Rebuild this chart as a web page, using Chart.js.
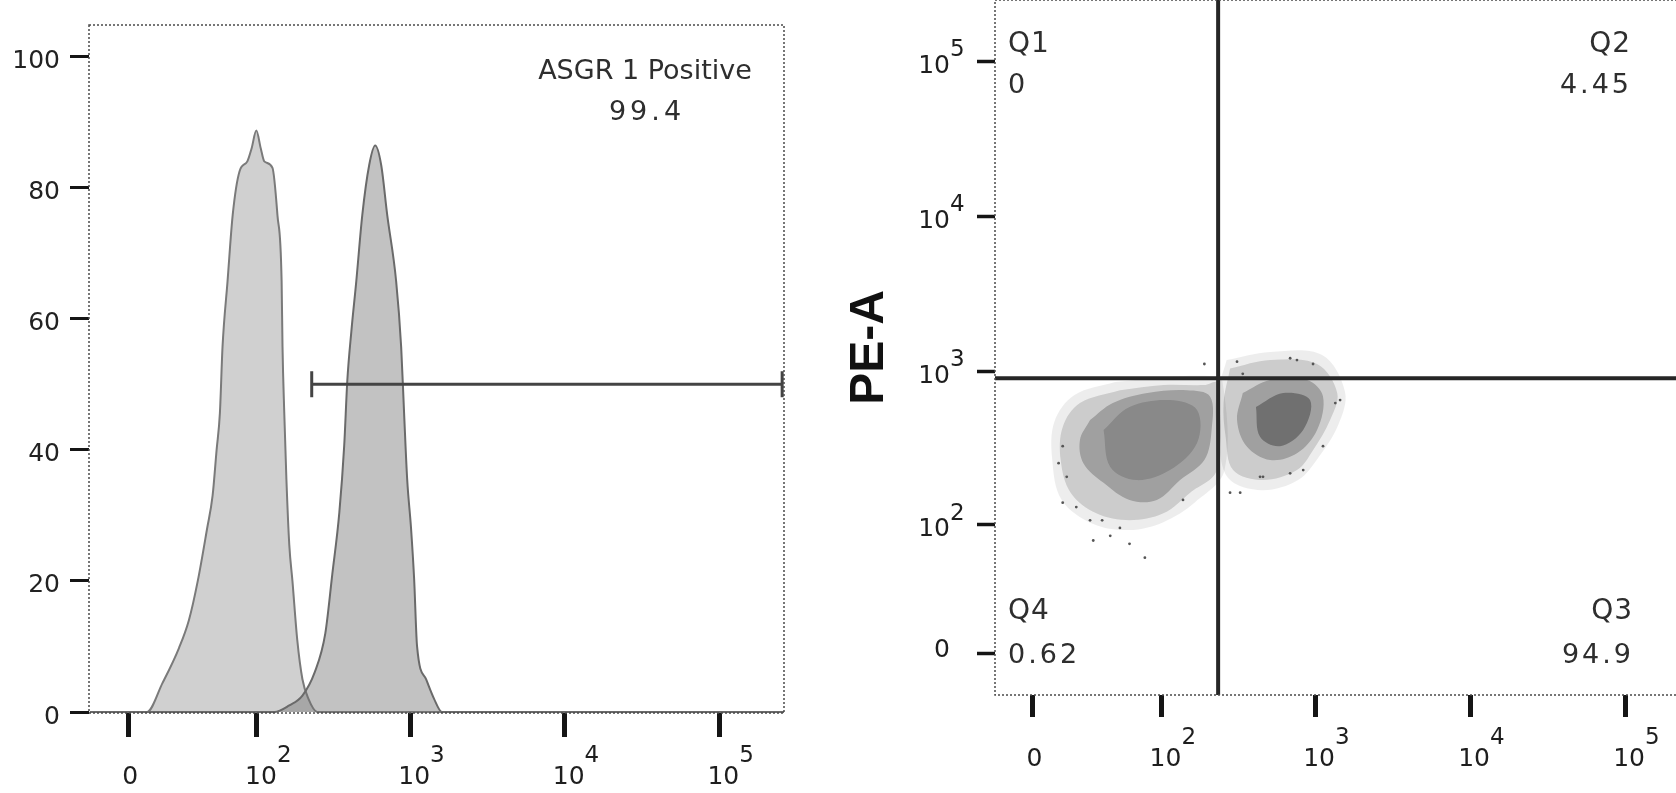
<!DOCTYPE html>
<html>
<head>
<meta charset="utf-8">
<title>ASGR1 staining</title>
<script src="https://cdn.jsdelivr.net/npm/chart.js@4.4.1/dist/chart.umd.min.js"></script>
<style>
  html, body { margin: 0; padding: 0; background: #fff; }
  body { position: relative; width: 1676px; height: 793px; overflow: hidden; }
  #histWrap { position: absolute; left: 0; top: 0; }
  #dotWrap { position: absolute; left: 840px; top: -20px; }
</style>
</head>
<body>
<div id="histWrap"><canvas id="histChart" width="800" height="793"></canvas></div>
<div id="dotWrap"><canvas id="dotChart" width="860" height="813"></canvas></div>
<script>
// decade ticks shared by every fluorescence axis
const decadeTicks = [0, 1e2, 1e3, 1e4, 1e5];
const decadeLabels = [["0", ""], ["10", "2"], ["10", "3"], ["10", "4"], ["10", "5"]];
const countTicks = [0, 20, 40, 60, 80, 100];

// histogram, % of max: unstained control and stained cells
const controlX = [-18, 8.5, 16, 25, 31, 37, 44, 48.5, 52, 55, 57.5, 62.5, 68, 76, 86, 92, 99, 106, 112, 127, 137, 146, 148, 152, 157, 164, 172, 185, 200, 219, 250, 262144];
const controlY = [0, 0, 4.4, 9.8, 14, 20, 28, 33, 40, 45.6, 55.7, 65.7, 75.8, 82.5, 84, 86, 88.7, 86, 84, 83, 75.8, 65.7, 55.7, 45.6, 35.5, 25.5, 20, 11, 5, 2, 0, 0];
const stainedX = [-18, 131, 164, 200, 240, 282, 313, 348, 374, 392, 416, 448, 490, 543, 594, 650, 711, 812, 875, 914, 957, 1014, 1061, 1109, 1268, 1429, 1607, 262144];
const stainedY = [0, 0, 1, 2.5, 6, 12, 21, 30.5, 40.6, 50.6, 58, 65.7, 75.8, 83.4, 86.4, 83.4, 75.8, 65.7, 55.7, 45.6, 35.5, 28, 20.4, 10, 5, 2, 0, 0];

// positive gate
const gateName = "ASGR 1 Positive";
const gatePct = "99.4";
const gateRange = [230, 255000];
const gateLevel = 50;

// dot plot density contours, [x, PE-A], faint halo to dense core
const clusterAHalo = [[47, 850], [106, 914], [209, 928], [251, 875], [260, 229], [167, 141], [103, 104], [60, 92], [31, 101], [13.5, 146], [9, 266], [10, 470], [20, 700]];
const clusterAOuter = [[51, 753], [103, 813], [192, 813], [231, 839], [231, 229], [155, 163], [103, 119], [60, 107], [33, 119], [18, 163], [13, 266], [14, 436], [23, 622]];
const clusterAMid = [[29, 483], [45, 622], [80, 722], [148, 753], [209, 686], [214, 416], [192, 266], [133, 197], [93, 146], [60, 146], [38, 189], [25, 254], [23, 358]];
const clusterACore = [[38, 416], [60, 587], [114, 650], [172, 560], [172, 343], [114, 229], [67, 197], [43, 240]];
const clusterBHalo = [[268, 1178], [512, 1327], [1110, 1268], [1560, 733], [1410, 448], [1045, 274], [777, 197], [455, 169], [274, 203], [236, 376], [228, 650]];
const clusterBOuter = [[282, 1040], [512, 1178], [1030, 1111], [1390, 722], [1250, 483], [970, 308], [764, 229], [461, 197], [295, 229], [264, 376], [256, 622]];
const clusterBMid = [[341, 722], [512, 875], [889, 875], [1125, 686], [1030, 416], [764, 294], [512, 266], [361, 327], [313, 483]];
const clusterBCore = [[415, 587], [622, 722], [928, 650], [838, 416], [594, 327], [441, 376]];
const sparseEvents = [
  [14, 140], [31, 78], [60, 74], [77, 59], [51, 95], [37, 107], [21, 131], [12, 254], [328, 163],
  [690, 1210], [970, 1111], [313, 1150], [192, 1111], [1450, 650], [838, 229], [282, 163], [461, 207],
  [341, 960], [764, 1178], [1350, 622], [1125, 327], [690, 218], [441, 207], [139, 146], [43, 84],
  [29, 107], [16, 207], [14, 327],
];

// quadrant gate
const quadX = 236;
const quadY = 900;
const quadNames = ["Q1", "Q2", "Q3", "Q4"];
const quadPct = ["0", "4.45", "94.9", "0.62"];

// axis ranges
const histXRange = [-18.5, 262144];
const histYRange = [-0.15, 104.8];
const dotXRange = [-17.5, 262144];
const dotYRange = [-19.5, 247700];

Chart.defaults.animation = false;
Chart.defaults.events = [];
Chart.defaults.font.family = '"DejaVu Sans", sans-serif';
Chart.defaults.color = "#222";
Chart.defaults.plugins.legend.display = false;
Chart.defaults.plugins.tooltip.enabled = false;

// biexponential display: linear around zero, log10 above a few hundred
const BIEX_W = 15;
const biex = (v) => Math.log10((v + Math.sqrt(v * v + 4 * BIEX_W * BIEX_W)) / 2);
const biexInv = (u) => {
  const w = Math.pow(10, u);
  return w - (BIEX_W * BIEX_W) / w;
};

class BiexScale extends Chart.Scale {
  static id = "biex";
  static defaults = {};

  parse(raw) {
    return raw === null || raw === undefined ? null : +raw;
  }
  determineDataLimits() {
    this.min = this.options.min;
    this.max = this.options.max;
  }
  buildTicks() {
    return [];
  }
  getLabelForValue(value) {
    return String(value);
  }
  configure() {
    super.configure();
    this._startValue = biex(this.min);
    this._valueRange = biex(this.max) - this._startValue;
  }
  getPixelForValue(value) {
    return this.getPixelForDecimal((biex(value) - this._startValue) / this._valueRange);
  }
  getValueForPixel(pixel) {
    return biexInv(this._startValue + this.getDecimalForPixel(pixel) * this._valueRange);
  }
}
Chart.register(BiexScale);

const toPoints = (xs, ys) => xs.map((x, i) => ({ x, y: ys[i] }));
const closed = (pairs) => [...pairs, pairs[0]].map(([x, y]) => ({ x, y }));
const setDecades = (scale) => {
  scale.ticks = decadeTicks.map((value) => ({ value }));
};

// dotted plot frame
const frame = {
  id: "frame",
  afterDatasetsDraw(chart) {
    const { ctx, chartArea: a } = chart;
    ctx.save();
    ctx.strokeStyle = "#4a4a4a";
    ctx.lineWidth = 1.5;
    ctx.setLineDash([2, 2]);
    ctx.strokeRect(a.left, a.top, a.right - a.left, a.bottom - a.top);
    ctx.restore();
  },
};

// "10" with a raised exponent under each decade tick
const decadeTickLabels = {
  id: "decadeTickLabels",
  afterDraw(chart) {
    const { ctx } = chart;
    ctx.save();
    ctx.fillStyle = "#1e1e1e";
    ctx.textBaseline = "middle";
    Object.values(chart.scales).forEach((scale) => {
      if (scale.type !== "biex") return;
      scale.ticks.forEach((tick) => {
        const [base, exp] = decadeLabels[decadeTicks.indexOf(tick.value)];
        const p = scale.getPixelForValue(tick.value);
        ctx.font = '25px "DejaVu Sans"';
        if (scale.isHorizontal()) {
          const cx = p + (exp ? 4 : 2);
          ctx.textAlign = "center";
          ctx.fillText(base, cx, scale.top + 64);
          if (exp) {
            const w = ctx.measureText(base).width;
            ctx.font = '23px "DejaVu Sans"';
            ctx.textAlign = "left";
            ctx.fillText(exp, cx + w / 2, scale.top + 43);
          }
        } else {
          const rx = scale.right - 45;
          ctx.textAlign = "right";
          ctx.fillText(base, rx, p + (exp ? 5 : -3));
          if (exp) {
            ctx.font = '23px "DejaVu Sans"';
            ctx.textAlign = "left";
            ctx.fillText(exp, rx, p - 11);
          }
        }
      });
    });
    ctx.restore();
  },
};

// gate / quadrant annotations, placed from the plot corners
function textNotes(items) {
  return {
    id: "textNotes",
    afterDraw(chart) {
      const { ctx, chartArea: a } = chart;
      ctx.save();
      ctx.fillStyle = "#2e2e2e";
      ctx.textBaseline = "alphabetic";
      items.forEach((n) => {
        ctx.font = `${n.size}px "DejaVu Sans"`;
        ctx.letterSpacing = `${n.spacing}px`;
        ctx.textAlign = n.align;
        const x = n.anchor === "right" ? a.right - n.dx : a.left + n.dx;
        const y = n.edge === "bottom" ? a.bottom - n.dy : a.top + n.dy;
        ctx.fillText(n.text, x, y);
      });
      ctx.restore();
    },
  };
}

const tickMarks = (length, width) => ({
  display: true,
  drawOnChartArea: false,
  drawTicks: true,
  tickLength: length,
  tickWidth: width,
  tickColor: "#151515",
});

// left: histogram
new Chart(document.getElementById("histChart"), {
  type: "line",
  data: {
    datasets: [
      {
        data: [{ x: gateRange[0], y: gateLevel }, { x: gateRange[1], y: gateLevel }],
        borderColor: "#444",
        borderWidth: 3,
        pointStyle: "line",
        rotation: 90,
        pointRadius: 13,
        pointBorderWidth: 3,
        pointBorderColor: "#444",
        order: 0,
      },
      {
        data: toPoints(stainedX, stainedY),
        borderColor: "#6a6a6a",
        borderWidth: 2,
        backgroundColor: "rgba(110,110,110,0.42)",
        fill: "origin",
        pointRadius: 0,
        cubicInterpolationMode: "monotone",
        order: 1,
      },
      {
        data: toPoints(controlX, controlY),
        borderColor: "#7a7a7a",
        borderWidth: 2,
        backgroundColor: "rgba(150,150,150,0.45)",
        fill: "origin",
        pointRadius: 0,
        cubicInterpolationMode: "monotone",
        order: 2,
      },
    ],
  },
  options: {
    responsive: false,
    layout: { padding: { top: 18, right: 14, left: 0, bottom: 0 } },
    scales: {
      x: {
        type: "biex",
        min: histXRange[0],
        max: histXRange[1],
        afterBuildTicks: setDecades,
        afterFit: (s) => { s.height = 80; },
        grid: tickMarks(24, 5),
        border: { display: false },
        ticks: { display: false },
      },
      y: {
        type: "linear",
        min: histYRange[0],
        max: histYRange[1],
        afterBuildTicks: (s) => { s.ticks = countTicks.map((value) => ({ value })); },
        afterFit: (s) => { s.width = 89; },
        grid: tickMarks(19, 3),
        border: { display: false },
        ticks: { padding: 10, labelOffset: 5, font: { size: 25 }, color: "#222" },
      },
    },
  },
  plugins: [
    frame,
    decadeTickLabels,
    textNotes([
      { text: gateName, size: 27, spacing: 0, align: "center", anchor: "right", dx: 139, edge: "top", dy: 54 },
      { text: gatePct, size: 27, spacing: 4, align: "center", anchor: "right", dx: 137, edge: "top", dy: 95 },
    ]),
  ],
});

// right: PE-A dot plot with quadrant gate
const contour = (pairs, fill, order) => ({
  data: closed(pairs),
  showLine: true,
  fill: "shape",
  backgroundColor: fill,
  borderWidth: 0,
  pointRadius: 0,
  tension: 0.35,
  order,
});

new Chart(document.getElementById("dotChart"), {
  type: "scatter",
  data: {
    datasets: [
      {
        data: [{ x: quadX, y: dotYRange[0] }, { x: quadX, y: dotYRange[1] }],
        showLine: true,
        borderColor: "#262626",
        borderWidth: 4,
        pointRadius: 0,
        order: 0,
      },
      {
        data: [{ x: dotXRange[0], y: quadY }, { x: dotXRange[1], y: quadY }],
        showLine: true,
        borderColor: "#262626",
        borderWidth: 4,
        pointRadius: 0,
        order: 0,
      },
      {
        data: sparseEvents.map(([x, y]) => ({ x, y })),
        pointRadius: 1.4,
        pointBorderWidth: 0,
        backgroundColor: "#555",
        order: 1,
      },
      contour(clusterACore, "rgba(0,0,0,0.15)", 2),
      contour(clusterBCore, "rgba(0,0,0,0.3)", 2),
      contour(clusterAMid, "rgba(0,0,0,0.22)", 3),
      contour(clusterBMid, "rgba(0,0,0,0.22)", 3),
      contour(clusterAOuter, "rgba(0,0,0,0.14)", 4),
      contour(clusterBOuter, "rgba(0,0,0,0.14)", 4),
      contour(clusterAHalo, "rgba(0,0,0,0.07)", 5),
      contour(clusterBHalo, "rgba(0,0,0,0.07)", 5),
    ],
  },
  options: {
    responsive: false,
    layout: { padding: { top: 20, right: 10, left: 0, bottom: 0 } },
    scales: {
      x: {
        type: "biex",
        min: dotXRange[0],
        max: dotXRange[1],
        afterBuildTicks: setDecades,
        afterFit: (s) => { s.height = 98; },
        grid: tickMarks(22, 5),
        border: { display: false },
        ticks: { display: false },
      },
      y: {
        type: "biex",
        min: dotYRange[0],
        max: dotYRange[1],
        afterBuildTicks: setDecades,
        afterFit: (s) => { s.width = 155; },
        grid: tickMarks(18, 3.5),
        border: { display: false },
        ticks: { display: false },
        title: {
          display: true,
          text: "PE-A",
          color: "#111",
          font: { family: '"Liberation Sans", Arial, sans-serif', size: 48, weight: "bold", lineHeight: 1 },
          padding: { top: 6, bottom: 0 },
        },
      },
    },
  },
  plugins: [
    frame,
    decadeTickLabels,
    textNotes([
      { text: quadNames[0], size: 28, spacing: 1, align: "left", anchor: "left", dx: 13, edge: "top", dy: 52 },
      { text: quadPct[0], size: 27, spacing: 3, align: "left", anchor: "left", dx: 13, edge: "top", dy: 93 },
      { text: quadNames[1], size: 28, spacing: 1, align: "right", anchor: "right", dx: 59, edge: "top", dy: 52 },
      { text: quadPct[1], size: 27, spacing: 3, align: "right", anchor: "right", dx: 58, edge: "top", dy: 93 },
      { text: quadNames[2], size: 28, spacing: 1, align: "right", anchor: "right", dx: 57, edge: "bottom", dy: 76 },
      { text: quadPct[2], size: 27, spacing: 3, align: "right", anchor: "right", dx: 56, edge: "bottom", dy: 32 },
      { text: quadNames[3], size: 28, spacing: 1, align: "left", anchor: "left", dx: 13, edge: "bottom", dy: 76 },
      { text: quadPct[3], size: 27, spacing: 3, align: "left", anchor: "left", dx: 13, edge: "bottom", dy: 32 },
    ]),
  ],
});
</script>
</body>
</html>
